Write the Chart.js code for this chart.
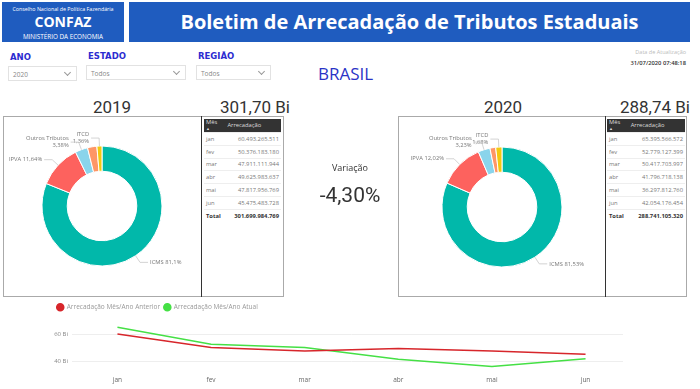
<!DOCTYPE html>
<html>
<head>
<meta charset="utf-8">
<script src="https://cdn.jsdelivr.net/npm/chart.js@4.4.1/dist/chart.umd.min.js"></script>
<style>
  body { margin: 0; width: 700px; height: 389px; background: #fff; position: relative; overflow: hidden; font-family: "Open Sans", sans-serif; }
  .abs { position: absolute; }
  .blue { background: #1f5cbf; color: #fff; }
  .flt { font-family: "DejaVu Sans", sans-serif; font-weight: bold; font-size: 8.5px; color: #2b2bd0; }
  .dd { border: 1px solid #e2e2e2; height: 15px; font-size: 6.5px; color: #888; line-height: 15px; padding-left: 4px; box-sizing: border-box; }
  .dd i { position: absolute; right: 6px; top: 3px; width: 4px; height: 4px; border-right: 1px solid #999; border-bottom: 1px solid #999; transform: rotate(45deg); }
  .big { font-family: Roboto, sans-serif; font-size: 17px; color: #333; }
  .panel { border: 1px solid #aaa; box-sizing: border-box; }
  table { border-collapse: collapse; font-size: 5.8px; color: #777; }
  td, th { padding: 0 2px; height: 11.8px; border-bottom: 1px solid #eee; }
  th { background: #333; color: #ddd; font-weight: normal; text-align: left; height: 13px; line-height: 5.5px; }
  td.v { text-align: right; }
  tr.tot td { font-weight: bold; color: #333; border-top: 1px solid #7cc; border-bottom: none; }
</style>
</head>
<body>
<div class="abs blue" style="left:2px;top:2px;width:122px;height:40px;text-align:center;">
  <div style="font-size:5.3px;margin-top:3px;">Conselho Nacional de Política Fazendária</div>
  <div style="font-size:14px;font-weight:bold;line-height:16px;margin-top:1px;">CONFAZ</div>
  <div style="font-size:6.3px;margin-top:2px;">MINISTÉRIO DA ECONOMIA</div>
</div>
<div class="abs blue" style="left:129px;top:2px;width:561px;height:40px;text-align:center;font-size:20px;font-weight:bold;line-height:40px;">Boletim de Arrecadação de Tributos Estaduais</div>

<div class="abs flt" style="left:10px;top:52px;">ANO</div>
<div class="abs dd" style="left:8px;top:66px;width:69px;">2020<i></i></div>
<div class="abs flt" style="left:88px;top:51px;">ESTADO</div>
<div class="abs dd" style="left:86px;top:65px;width:100px;">Todos<i></i></div>
<div class="abs flt" style="left:198px;top:51px;">REGIÃO</div>
<div class="abs dd" style="left:196px;top:65px;width:75px;">Todos<i></i></div>
<div class="abs" style="left:318px;top:62px;font-size:17px;color:#2a33c6;">BRASIL</div>
<div class="abs" style="right:14px;top:48px;font-size:5.5px;color:#bbb;text-align:right;">Data de Atualização</div>
<div class="abs" style="right:14px;top:59px;font-size:5.8px;color:#333;text-align:right;font-weight:600;">31/07/2020 07:48:18</div>

<div class="abs big" id="y1" style="left:72px;top:97px;width:80px;text-align:center;"></div>
<div class="abs big" id="t1" style="left:200px;top:97px;width:90px;text-align:right;"></div>
<div class="abs big" id="y2" style="left:463px;top:97px;width:80px;text-align:center;"></div>
<div class="abs big" id="t2" style="left:600px;top:97px;width:90px;text-align:right;"></div>

<div class="abs panel" style="left:3px;top:116px;width:281px;height:181px;"></div>
<div class="abs" style="left:201px;top:116px;width:1px;height:181px;background:#333;"></div>
<div class="abs" style="left:4px;top:117px;width:196px;height:178px;"><canvas id="pie1"></canvas></div>
<div class="abs" style="left:204px;top:119px;width:77px;"><table id="tab1" style="width:77px;"></table></div>

<div class="abs panel" style="left:398px;top:116px;width:289px;height:181px;"></div>
<div class="abs" style="left:605px;top:116px;width:1px;height:181px;background:#333;"></div>
<div class="abs" style="left:399px;top:117px;width:206px;height:180px;"><canvas id="pie2"></canvas></div>
<div class="abs" style="left:607px;top:119px;width:78px;"><table id="tab2" style="width:78px;"></table></div>

<div class="abs" style="left:300px;top:161px;width:100px;text-align:center;font-size:9px;color:#333;">Variação</div>
<div class="abs" id="var" style="left:300px;top:183px;width:100px;text-align:center;font-family:Roboto,sans-serif;font-size:21px;color:#333;"></div>

<div class="abs" style="left:53px;top:300px;width:590px;height:89px;"><canvas id="linha"></canvas></div>

<script>
// valores mensais (R$)
const meses = ['jan', 'fev', 'mar', 'abr', 'mai', 'jun'];
const arrec2019 = [60493265511, 50376183180, 47911111944, 49625983637, 47817956769, 45475483728];
const arrec2020 = [65395566572, 52779127399, 50417703997, 41796718138, 36297812760, 42054176454];

// participação por tributo (%)
const tributos = ['ICMS', 'IPVA', 'Outros Tributos', 'Taxas', 'ITCD'];
const part2019 = [81.1, 11.64, 3.38, 2.52, 1.36];
const part2020 = [81.53, 12.02, 3.23, 1.54, 1.68];
const comRotulo = [true, true, true, false, true];
const cores = ['#01B8AA', '#FD625E', '#8AD4EB', '#FE9666', '#F2C80F'];

const ticksBi = [40, 60];

const fmt = n => String(n).replace(/\B(?=(\d{3})+(?!\d))/g, '.');
const virg = n => String(n).replace('.', ',');
const soma = a => a.reduce((s, v) => s + v, 0);

const tot2019 = soma(arrec2019), tot2020 = soma(arrec2020);
document.getElementById('y1').textContent = '2019';
document.getElementById('y2').textContent = '2020';
document.getElementById('t1').textContent = (tot2019 / 1e9).toFixed(2).replace('.', ',') + ' Bi';
document.getElementById('t2').textContent = (tot2020 / 1e9).toFixed(2).replace('.', ',') + ' Bi';
document.getElementById('var').textContent = ((tot2020 / tot2019 - 1) * 100).toFixed(2).replace('.', ',') + '%';

function montaTabela(id, valores, total) {
  let html = '<tr><th>Mês<br><span style="font-size:4px">▲</span></th><th>Arrecadação</th></tr>';
  meses.forEach((m, i) => {
    html += '<tr><td>' + m + '</td><td class="v">' + fmt(valores[i]) + '</td></tr>';
  });
  html += '<tr class="tot"><td>Total</td><td class="v">' + fmt(total) + '</td></tr>';
  document.getElementById(id).innerHTML = html;
}
montaTabela('tab1', arrec2019, tot2019);
montaTabela('tab2', arrec2020, tot2020);

// rótulos com linha de chamada, estilo Power BI
const rotulosChamada = {
  id: 'rotulosChamada',
  afterDatasetsDraw(chart) {
    const ctx = chart.ctx;
    const meta = chart.getDatasetMeta(0);
    const vals = chart.data.datasets[0].data;
    const colocados = [];
    ctx.save();
    ctx.font = '5.8px "Open Sans"';
    ctx.lineWidth = 0.8;
    for (let i = meta.data.length - 1; i >= 0; i--) {
      if (!comRotulo[i]) continue;
      const arc = meta.data[i];
      const mid = (arc.startAngle + arc.endAngle) / 2;
      const r = arc.outerRadius;
      const ex = arc.x + Math.cos(mid) * r, ey = arc.y + Math.sin(mid) * r;
      const bx = arc.x + Math.cos(mid) * (r + 8), by = arc.y + Math.sin(mid) * (r + 8);
      const esq = Math.cos(mid) < 0.02;
      const linhas = vals[i] < 5
        ? [chart.data.labels[i], virg(vals[i]) + '%']
        : [chart.data.labels[i] + ' ' + virg(vals[i]) + '%'];
      const w = Math.max(...linhas.map(l => ctx.measureText(l).width));
      const h = linhas.length * 7;
      let hx = esq ? bx - 8 : bx + 8;
      let box = () => esq ? { x1: hx - 2 - w, x2: hx - 2, y1: by - h / 2, y2: by + h / 2 }
                          : { x1: hx + 2, x2: hx + 2 + w, y1: by - h / 2, y2: by + h / 2 };
      const bate = b => colocados.some(c => b.x1 < c.x2 && b.x2 > c.x1 && b.y1 < c.y2 && b.y2 > c.y1);
      while (bate(box())) hx += esq ? -2 : 2;
      colocados.push(box());
      ctx.strokeStyle = '#c8c8c8';
      ctx.beginPath();
      ctx.moveTo(ex, ey); ctx.lineTo(bx, by); ctx.lineTo(hx, by);
      ctx.stroke();
      ctx.fillStyle = '#777';
      ctx.textAlign = esq ? 'right' : 'left';
      ctx.textBaseline = 'middle';
      linhas.forEach((l, k) => {
        ctx.fillText(l, esq ? hx - 2 : hx + 2, by - h / 2 + 3.5 + k * 7);
      });
    }
    ctx.restore();
  }
};

function rosca(id, valores) {
  new Chart(document.getElementById(id), {
    type: 'doughnut',
    data: {
      labels: tributos,
      datasets: [{ data: valores, backgroundColor: cores, borderColor: '#fff', borderWidth: 1 }]
    },
    options: {
      responsive: true, maintainAspectRatio: false, animation: false,
      radius: 60, cutout: '58%',
      plugins: { legend: { display: false }, tooltip: { enabled: false } }
    },
    plugins: [rotulosChamada]
  });
}
rosca('pie1', part2019);
rosca('pie2', part2020);

new Chart(document.getElementById('linha'), {
  type: 'line',
  data: {
    datasets: [
      { label: 'Arrecadação Mês/Ano Anterior', data: arrec2019.map((v, i) => ({ x: i, y: v / 1e9 })), borderColor: '#d7262b', backgroundColor: '#d7262b', borderWidth: 1.5, pointRadius: 0 },
      { label: 'Arrecadação Mês/Ano Atual', data: arrec2020.map((v, i) => ({ x: i, y: v / 1e9 })), borderColor: '#45e045', backgroundColor: '#45e045', borderWidth: 1.5, pointRadius: 0 }
    ]
  },
  options: {
    responsive: true, maintainAspectRatio: false, animation: false,
    layout: { padding: { right: 20, bottom: 2 } },
    plugins: {
      tooltip: { enabled: false },
      legend: {
        align: 'start',
        labels: { usePointStyle: true, pointStyle: 'circle', boxHeight: 5, padding: 4, color: '#999', font: { size: 6.5, family: 'Open Sans' } }
      }
    },
    scales: {
      x: {
        type: 'linear', min: -0.4, max: 5.4,
        afterBuildTicks: ax => { ax.ticks = meses.map((m, i) => ({ value: i })); },
        ticks: { callback: v => meses[v], color: '#666', font: { size: 6.5, family: 'Open Sans' }, padding: 3 },
        grid: { display: false, drawTicks: false }, border: { display: false }
      },
      y: {
        min: 31.4, max: 70.4,
        afterBuildTicks: ax => { ax.ticks = ticksBi.map(v => ({ value: v })); },
        afterFit: ax => { ax.width = 27; },
        ticks: { callback: v => v + ' Bi', color: '#888', font: { size: 6, family: 'Open Sans' }, padding: 4 },
        grid: { color: '#eeeeee' }, border: { display: false }
      }
    }
  }
});
</script>
</body>
</html>
